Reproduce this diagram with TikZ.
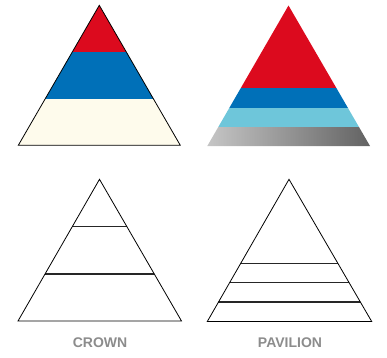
\documentclass[tikz,border=0pt]{standalone}
\usepackage{fontspec}
\setmainfont{Liberation Sans}
\definecolor{gemred}{HTML}{DC0A1E}
\definecolor{gemblue}{HTML}{0070B8}
\definecolor{gemcream}{HTML}{FEFBEC}
\definecolor{gemcyan}{HTML}{6EC6DA}
\definecolor{labelgray}{HTML}{8C8C8C}
\tikzset{
  outline/.style={draw=black, line width=0.8pt, line join=miter},
  facet/.style={draw=black!85, line width=1.3pt},
  cutlabel/.style={text=labelgray, font=\bfseries\fontsize{14}{16}\selectfont, inner sep=0pt}
}
\begin{document}
\begin{tikzpicture}[x=1pt,y=-1pt]
\useasboundingbox (0,0) rectangle (387,357);
\begin{scope}
    %——————————————————————————————————————————————
    % Corona en color (arriba izquierda)
    %——————————————————————————————————————————————
    \coordinate (ctop) at (99.3,5.3);
    \coordinate (cleft) at (18.3,145.3);
    \coordinate (cright) at (180.3,145.3);
    \begin{scope}
      \clip (ctop) -- (cleft) -- (cright) -- cycle;
      \fill[gemred] (0,0) rectangle (200,52.3);
      \fill[gemblue] (0,52.3) rectangle (200,99);
      \fill[gemcream] (0,99) rectangle (200,150);
    \end{scope}
    \draw[outline] (ctop) -- (cleft) -- (cright) -- cycle;

    %——————————————————————————————————————————————
    % Pabellón en color (arriba derecha), sin contorno
    %——————————————————————————————————————————————
    \coordinate (ptop) at (288.5,5.5);
    \coordinate (pleft) at (207.3,146);
    \coordinate (pright) at (370,146);
    \begin{scope}
      \clip (ptop) -- (pleft) -- (pright) -- cycle;
      \fill[gemred] (200,0) rectangle (380,88.3);
      \fill[gemblue] (200,88.3) rectangle (380,108);
      \fill[gemcyan] (200,108) rectangle (380,127);
      \shade[left color=black!22, right color=black!62] (205,127) rectangle (372,147);
    \end{scope}

    %——————————————————————————————————————————————
    % Corona en líneas (abajo izquierda)
    %——————————————————————————————————————————————
    \coordinate (ltop) at (99.5,179.3);
    \coordinate (lleft) at (18,321);
    \coordinate (lright) at (181.5,321);
    \begin{scope}
      \clip (ltop) -- (lleft) -- (lright) -- cycle;
      \draw[facet] (0,226.7) -- (200,226.7);
      \draw[facet] (0,274) -- (200,274);
    \end{scope}
    \draw[outline] (ltop) -- (lleft) -- (lright) -- cycle;
    \node[cutlabel] (crown) at (100,343) {CROWN};

    %——————————————————————————————————————————————
    % Pabellón en líneas (abajo derecha)
    %——————————————————————————————————————————————
    \coordinate (rtop) at (289,179.3);
    \coordinate (rleft) at (207.3,321.5);
    \coordinate (rright) at (371.7,321.5);
    \begin{scope}
      \clip (rtop) -- (rleft) -- (rright) -- cycle;
      \draw[facet] (200,263.3) -- (380,263.3);
      \draw[facet] (200,282.7) -- (380,282.7);
      \draw[facet] (200,302) -- (380,302);
    \end{scope}
    \draw[outline] (rtop) -- (rleft) -- (rright) -- cycle;
    \node[cutlabel] (pavilion) at (290,343) {PAVILION};
\end{scope}
\end{tikzpicture}
\end{document}
